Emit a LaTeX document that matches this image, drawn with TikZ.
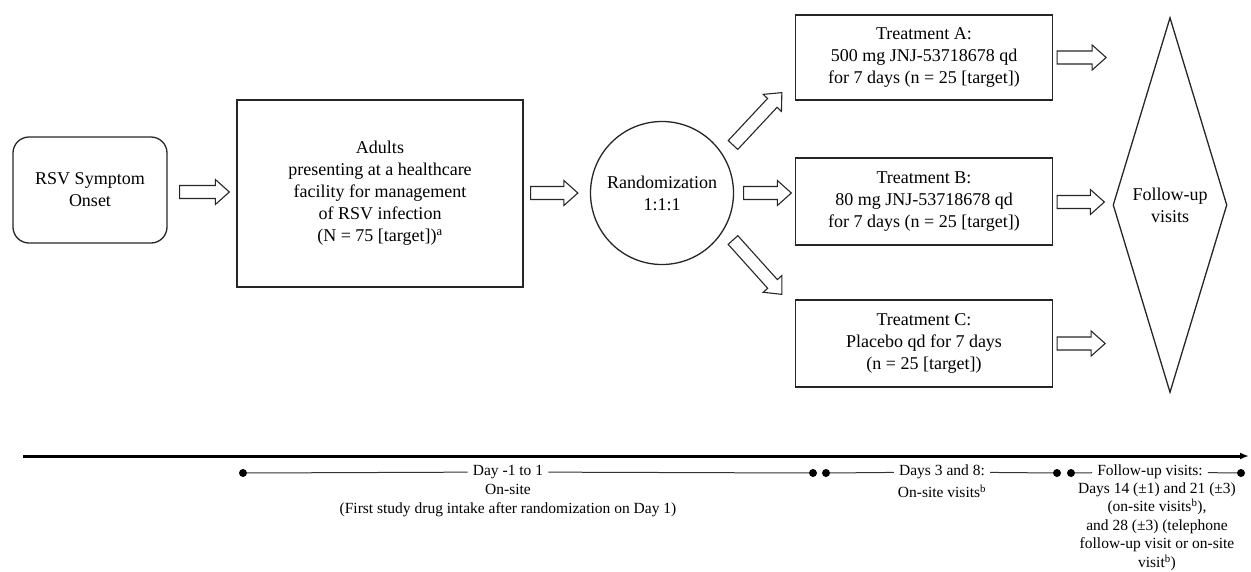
\documentclass[tikz,border=0pt]{standalone}
\usepackage{fontspec}
\setmainfont{Liberation Serif}
\usetikzlibrary{shapes.geometric,arrows.meta,calc}

\begin{document}
\begin{tikzpicture}[x=1pt, y=-1pt,
	box/.style={draw=black!85, line width=1.3pt, rectangle, align=center, inner sep=0pt, font=\fontsize{18}{22}\selectfont},
	fat/.style={draw=black!85, line width=1.1pt, to path={
		let \p0=(\tikztostart), \p9=(\tikztotarget), \p5=($(\p9)!14pt!(\p0)$) in
		($(\p0)!6.5pt!90:(\p9)$) -- ($(\p5)!6.5pt!-90:(\p0)$) -- ($(\p5)!12.5pt!-90:(\p0)$) -- (\p9)
		-- ($(\p5)!12.5pt!90:(\p0)$) -- ($(\p5)!6.5pt!90:(\p0)$) -- ($(\p0)!6.5pt!-90:(\p9)$) -- cycle}},
	dot/.style={circle, fill=black, inner sep=0pt, minimum size=8pt},
	tl/.style={align=center, inner ysep=0pt, inner xsep=5pt, font=\fontsize{15.5}{18.5}\selectfont}
	]
	\useasboundingbox (0,0) rectangle (1251,571);

	% flow boxes
	\node[box, rounded corners=16pt, minimum width=154pt, minimum height=106pt] (rsv) at (90,190) {RSV Symptom\\Onset};
	\node[box, minimum width=286pt, minimum height=187pt] (adults) at (380,193.5) {Adults\\presenting at a healthcare\\facility for management\\of RSV infection\\(N = 75 [target])\textsuperscript{a}};
	\node[box, circle, minimum size=143pt] (rand) at (662,193) {Randomization\\1:1:1};
	\node[box, minimum width=257pt, minimum height=85pt] (trta) at (924,57.5) {Treatment A:\\500 mg JNJ-53718678 qd\\for 7 days (n = 25 [target])};
	\node[box, minimum width=257pt, minimum height=87pt] (trtb) at (924,201.5) {Treatment B:\\80 mg JNJ-53718678 qd\\for 7 days (n = 25 [target])};
	\node[box, minimum width=257pt, minimum height=87pt] (trtc) at (924,343.5) {Treatment C:\\Placebo qd for 7 days\\(n = 25 [target])};
	\node[box, diamond, aspect=0.3, minimum width=114pt, minimum height=375pt] (fu) at (1170,205) {Follow-up\\visits};

	% block arrows
	\draw[fat] ([shift={(12,2)}]rsv.east) to ([shift={(-7,-1.5)}]adults.west);
	\draw[fat] ([shift={(7,-0.5)}]adults.east) to ([shift={(-12,0)}]rand.west);
	\draw[fat] ([shift={(71,-48)}]rand.center) to ([shift={(-13,-8)}]trta.south west);
	\draw[fat] ([shift={(9.5,0)}]rand.east) to ([shift={(-3.5,-8.5)}]trtb.west);
	\draw[fat] ([shift={(71,47)}]rand.center) to ([shift={(-13,-5)}]trtc.north west);
	\draw[fat] ([shift={(4,0)}]trta.east) to ([shift={(53,0)}]trta.east);
	\draw[fat] ([shift={(4,0.5)}]trtb.east) to ([shift={(-8,-3)}]fu.west);
	\draw[fat] ([shift={(4,0)}]trtc.east) to ([shift={(52,0)}]trtc.east);

	% time line
	\coordinate (t0) at (23,456);
	\coordinate (t1) at (1249,456);
	\draw[line width=3pt, -{Latex[length=9pt, width=7pt]}] (t0) -- (t1);

	\node[dot] (d1) at (243,473) {};
	\node[dot] (d2) at (813,473) {};
	\node[dot] (d3) at (826,473) {};
	\node[dot] (d4) at (1057,473) {};
	\node[dot] (d5) at (1071,473) {};
	\node[dot] (d6) at (1241,473) {};

	\node[tl] (day1) at (508,472) {Day -1 to 1};
	\node[tl] (day38) at (942,472) {Days 3 and 8:};
	\node[tl] (fuv) at (1150,472) {Follow-up visits:};

	\draw[line width=1pt, black!80] (d1) -- (day1) -- (d2);
	\draw[line width=1pt, black!80] (d3) -- (day38) -- (d4);
	\draw[line width=1pt, black!80] (d5) -- (fuv) -- (d6);

	\node[tl] (day1sub) at (508,500.5) {On-site\\(First study drug intake after randomization on Day 1)};
	\node[tl] (day38sub) at (942,491) {On-site visits\textsuperscript{b}};
	\node[tl] (fuvsub) at (1157,526.5) {Days 14 (±1) and 21 (±3)\\(on-site visits\textsuperscript{b}),\\and 28 (±3) (telephone\\follow-up visit or on-site\\visit\textsuperscript{b})};
\end{tikzpicture}
\end{document}
